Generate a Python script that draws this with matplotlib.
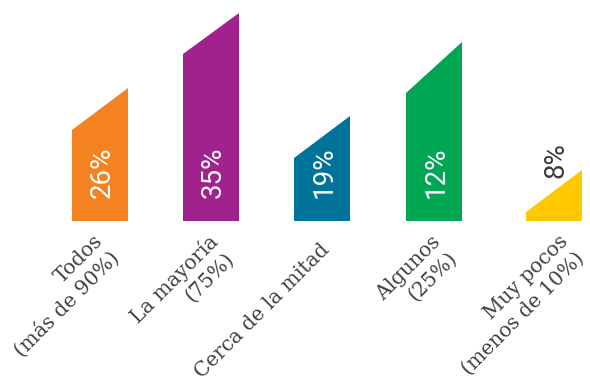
#importing libraries
import numpy as np
import matplotlib.pyplot as plt
from matplotlib.patches import Polygon

#chart data
categories = ["Todos\n(más de 90%)", "La mayoría\n(75%)", "Cerca de la mitad",
              "Algunos\n(25%)", "Muy pocos\n(menos de 10%)"]
pct = [26, 35, 19, 12, 8]
left_h = [91, 167, 63, 128, 9]      # bar height at left edge
right_h = [133, 208, 105, 179, 51]  # bar height at right edge (slanted top)
colors = ["#F58220", "#A2228D", "#00739A", "#00A651", "#FFC800"]

#layout
centers = [100, 211, 322, 434, 554]
width = 56
label_dx = [8, 12, 4, 12, 19]

fig = plt.figure(figsize=(5.9, 3.83), dpi=100)
ax = fig.add_axes([0, 0, 1, 1])
ax.set_xlim(0, 590)
ax.set_ylim(-162, 221)
ax.axis("off")

for i in range(len(pct)):
    x0 = centers[i] - width / 2
    x1 = centers[i] + width / 2
    poly = Polygon([(x0, 0), (x1, 0), (x1, right_h[i]), (x0, left_h[i])],
                   closed=True, facecolor=colors[i], edgecolor="none")
    ax.add_patch(poly)

    # percent label, inside the bar unless the bar is too short
    if left_h[i] > 40:
        ax.text(centers[i] + 2, 23, f"{pct[i]}%", rotation=90, rotation_mode="anchor",
                ha="left", va="center", color="white", fontsize=20,
                family="Roboto", fontweight="normal")
    else:
        ax.text(centers[i] + 2, (left_h[i] + right_h[i]) / 2 + 13, f"{pct[i]}%",
                rotation=90, rotation_mode="anchor", ha="left", va="center",
                color="#3a3a3a", fontsize=20, family="Roboto", fontweight="normal")

    # category label
    ax.text(centers[i] + label_dx[i], -26, categories[i], rotation=45,
            rotation_mode="anchor", ha="right", va="center", multialignment="right",
            color="#404040", fontsize=14.5, family="DejaVu Serif", linespacing=1.25)

plt.savefig("out.png", dpi=100)
